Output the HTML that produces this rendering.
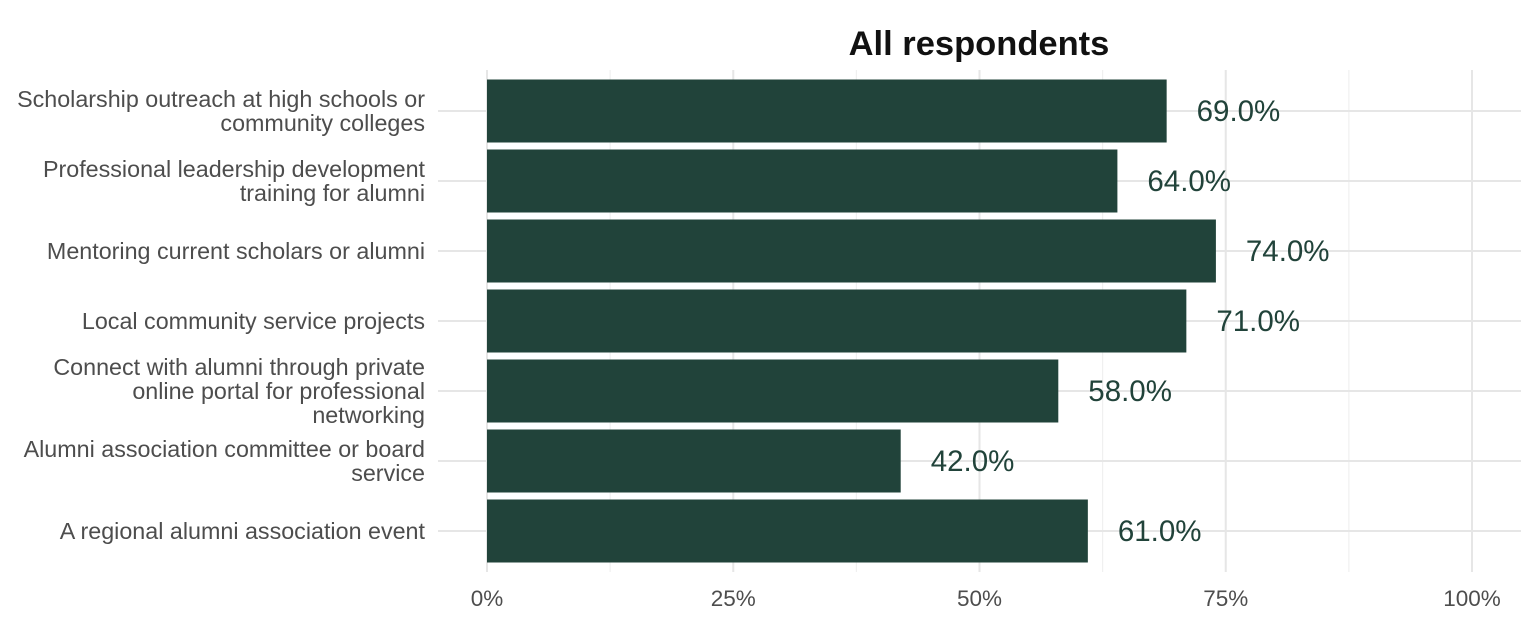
<!DOCTYPE html>
<html><head><meta charset="utf-8"><style>
body{margin:0;background:#fff;}
svg{display:block;font-family:"Liberation Sans",Arial,sans-serif;}
</style></head><body>
<svg id="chart" width="1536" height="624">
<text x="979" y="55" text-anchor="middle" font-size="34.5" font-weight="bold" fill="#111">All respondents</text>
<g id="grid"></g><g id="bars"></g><g id="labels"></g>
</svg>
<script>
const categories=[["Scholarship outreach at high schools or","community colleges"],["Professional leadership development","training for alumni"],["Mentoring current scholars or alumni"],["Local community service projects"],["Connect with alumni through private","online portal for professional","networking"],["Alumni association committee or board","service"],["A regional alumni association event"]];
const values=[69,64,74,71,58,42,61];
const ticks=[0,25,50,75,100];
const tickLabels=["0%","25%","50%","75%","100%"];
const NS="http://www.w3.org/2000/svg";
const xs=v=>487+v*9.85;
const ys=i=>111+i*70;
const plotTop=70,plotBottom=572,plotLeft=438,plotRight=1521;
function mk(t,a,p){const e=document.createElementNS(NS,t);for(const k in a)e.setAttribute(k,a[k]);p.appendChild(e);return e;}
const grid=document.getElementById('grid'),bars=document.getElementById('bars'),labels=document.getElementById('labels');
for(let v=12.5;v<100;v+=25){const l=mk('line',{x1:xs(v),x2:xs(v),y1:plotTop,y2:plotBottom,stroke:'#f0f0f0','stroke-width':1.2},grid);

}
ticks.forEach((v,i)=>{const l=mk('line',{x1:xs(v),x2:xs(v),y1:plotTop,y2:plotBottom,stroke:'#e6e6e6','stroke-width':2},grid);


const t=mk('text',{x:xs(v),y:606,'text-anchor':'middle','font-size':22.5,fill:'#4d4d4d'},labels);t.textContent=tickLabels[i];

});
categories.forEach((c,i)=>{const l=mk('line',{x1:plotLeft,x2:plotRight,y1:ys(i),y2:ys(i),stroke:'#e6e6e6','stroke-width':2},grid);


const r=mk('rect',{x:xs(0),y:ys(i)-31.5,width:xs(values[i])-xs(0),height:63,fill:'#21433a'},bars);


const vt=mk('text',{x:xs(values[i])+30,y:ys(i)+10,'font-size':29.5,fill:'#21433a'},labels);vt.textContent=values[i].toFixed(1)+'%';


const n=c.length;c.forEach((s,j)=>{const t=mk('text',{x:425,y:ys(i)+8+(j-(n-1)/2)*24,'text-anchor':'end','font-size':23.3,fill:'#4d4d4d'},labels);t.textContent=s;

});});
</script>
</body></html>
